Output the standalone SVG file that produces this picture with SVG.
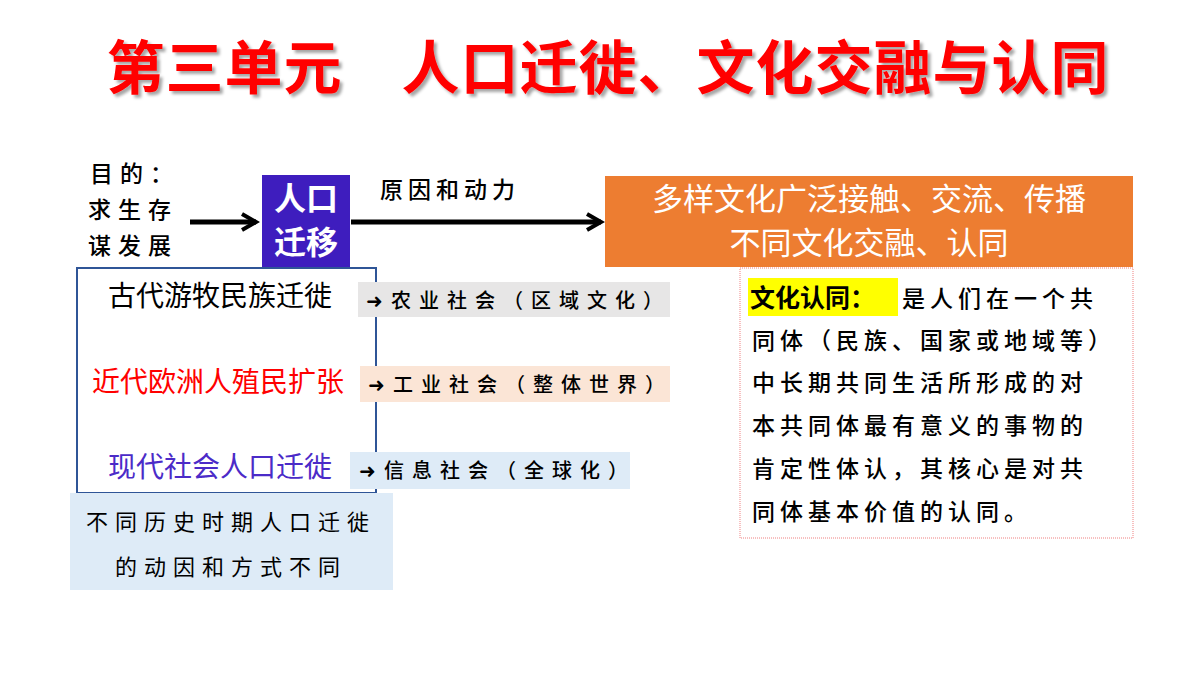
<svg xmlns="http://www.w3.org/2000/svg" width="1200" height="675" viewBox="0 0 1200 675">
<defs>
<style>
text{font-family:"Noto Sans CJK SC",sans-serif}
.k{font-family:"Noto Sans CJK SC",sans-serif;font-weight:500}
.w{fill:#fff}
</style>
<filter id="sh" x="-5%" y="-20%" width="110%" height="140%"><feDropShadow dx="3" dy="3" stdDeviation="1.5" flood-color="#000" flood-opacity="0.35"/></filter>
<marker id="ah" viewBox="0 0 10 10" refX="8" refY="5" markerWidth="4" markerHeight="4" orient="auto"><path d="M1,1 L8,5 L1,9" fill="none" stroke="#000" stroke-width="2"/></marker>
</defs>
<rect width="1200" height="675" fill="#fff"/>
<g id="title">
<text x="608" y="89" font-size="58" font-weight="bold" fill="#FF0000" text-anchor="middle" letter-spacing="1" filter="url(#sh)">第三单元　人口迁徙、文化交融与认同</text>
</g>
<g id="purpose" class="k" font-size="23" letter-spacing="7">
<text x="90" y="182">目的：</text>
<text x="88" y="218">求生存</text>
<text x="88" y="254">谋发展</text>
</g>
<g id="connectors" stroke="#000" stroke-width="5" fill="none">
<line x1="190" y1="222" x2="256" y2="222" marker-end="url(#ah)"/>
<line x1="351" y1="222" x2="601" y2="222" marker-end="url(#ah)"/>
</g>
<text class="k" x="380" y="198" font-size="23" letter-spacing="5">原因和动力</text>
<g id="migration">
<rect x="262" y="175" width="88" height="93" fill="#3E1DBE"/>
<text x="306" y="210" font-size="32" class="w" font-weight="bold" text-anchor="middle">人口</text>
<text x="306" y="254" font-size="32" class="w" font-weight="bold" text-anchor="middle">迁移</text>
</g>
<g id="result">
<rect x="605" y="176" width="528" height="91" fill="#ED7D31"/>
<text x="869" y="210" font-size="31" class="w" text-anchor="middle">多样文化广泛接触、交流、传播</text>
<text x="869" y="254" font-size="31" class="w" text-anchor="middle">不同文化交融、认同</text>
</g>
<g id="stages">
<rect x="77" y="268" width="299" height="225" fill="none" stroke="#2F5597" stroke-width="2"/>
<text x="108" y="306" font-size="28" fill="#000">古代游牧民族迁徙</text>
<text x="92" y="392" font-size="28" fill="#FF0000">近代欧洲人殖民扩张</text>
<text x="108" y="477" font-size="28" fill="#4B2BC8">现代社会人口迁徙</text>
</g>
<g id="s1"><rect x="358" y="282" width="312" height="35" fill="#E7E6E6"/><text class="k" x="366" y="308" font-size="20" letter-spacing="8">➜农业社会（区域文化）</text></g>
<g id="s2"><rect x="360" y="366" width="310" height="36" fill="#FBE5D6"/><text class="k" x="368" y="392" font-size="20" letter-spacing="8">➜工业社会（整体世界）</text></g>
<g id="s3"><rect x="350" y="452" width="280" height="37" fill="#DEEBF7"/><text class="k" x="359" y="478" font-size="20" letter-spacing="8">➜信息社会（全球化）</text></g>
<g id="note">
<rect x="70" y="493" width="323" height="97" fill="#DEEBF7"/>
<text x="231" y="530" font-size="22" text-anchor="middle" letter-spacing="7">不同历史时期人口迁徙</text>
<text x="231" y="575" font-size="22" text-anchor="middle" letter-spacing="7">的动因和方式不同</text>
</g>
<g id="definition">
<rect x="740" y="268" width="393" height="270" fill="#fff" stroke="#F08080" stroke-width="1" stroke-dasharray="1,1"/>
<rect x="748" y="278" width="150" height="38" fill="#FFFF00"/>
<text x="750" y="307" font-size="25" font-weight="bold">文化认同：</text>
<g class="k" font-size="23" letter-spacing="5">
<text x="902" y="307">是人们在一个共</text>
<text x="752" y="349">同体（民族、国家或地域等）</text>
<text x="752" y="391">中长期共同生活所形成的对</text>
<text x="752" y="434">本共同体最有意义的事物的</text>
<text x="752" y="477">肯定性体认，其核心是对共</text>
<text x="752" y="520">同体基本价值的认同。</text>
</g>
</g>
</svg>
